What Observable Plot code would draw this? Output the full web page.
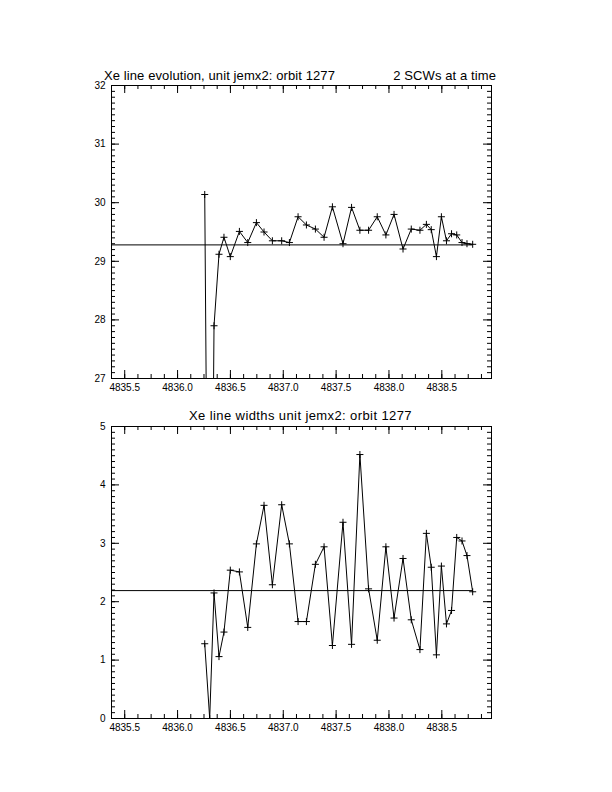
<!DOCTYPE html>
<html>
<head>
<meta charset="utf-8">
<script src="https://cdn.jsdelivr.net/npm/d3@7"></script>
<script src="https://cdn.jsdelivr.net/npm/@observablehq/plot@0.6"></script>
<style>
  body { margin: 0; background: #fff; }
  #page { position: relative; width: 612px; height: 792px; background: #fff; overflow: hidden;
          font-family: "Liberation Sans", sans-serif; color: #000; }
  .title { position: absolute; font-size: 13px; line-height: 13px; white-space: pre; letter-spacing: 0.1px; }
  .panel { position: absolute; left: 0; }
  svg { overflow: visible; }
</style>
</head>
<body>
<div id="page">
  <div class="title" id="t1" style="left:104px; width:392px; top:69px; display:flex; justify-content:space-between;">
    <span id="t1a"></span><span id="t1b"></span>
  </div>
  <div class="title" id="t2" style="left:110px; width:381px; top:409px; text-align:center; letter-spacing:0.4px;"></div>
  <div class="panel" id="p1" style="top:0px"></div>
  <div class="panel" id="p2" style="top:396px"></div>
</div>
<script>
// ---- data ----
const times = [4836.257, 4836.304, 4836.345, 4836.392, 4836.439, 4836.499, 4836.585, 4836.664,
               4836.746, 4836.818, 4836.897, 4836.985, 4837.058, 4837.140, 4837.219, 4837.304,
               4837.386, 4837.465, 4837.565, 4837.646, 4837.725, 4837.807, 4837.889, 4837.971,
               4838.048, 4838.133, 4838.211, 4838.293, 4838.354, 4838.400, 4838.449, 4838.496,
               4838.544, 4838.592, 4838.641, 4838.691, 4838.738, 4838.792];
const lineCentre = [30.14, 19.0, 27.90, 29.12, 29.41, 29.08, 29.51, 29.32,
                    29.66, 29.50, 29.35, 29.35, 29.32, 29.76, 29.62, 29.55,
                    29.41, 29.93, 29.30, 29.92, 29.53, 29.53, 29.76, 29.45,
                    29.80, 29.21, 29.55, 29.53, 29.63, 29.54, 29.08, 29.76,
                    29.35, 29.47, 29.45, 29.32, 29.30, 29.29];
const lineWidth = [1.28, 0.00, 2.15, 1.06, 1.48, 2.54, 2.51, 1.56,
                   2.99, 3.65, 2.29, 3.66, 2.99, 1.66, 1.66, 2.64,
                   2.94, 1.25, 3.36, 1.27, 4.52, 2.22, 1.34, 2.94,
                   1.72, 2.74, 1.69, 1.18, 3.17, 2.59, 1.09, 2.61,
                   1.62, 1.85, 3.10, 3.04, 2.79, 2.17];
const centreMean = 29.28;
const widthMean = 2.19;
const xTickLabels = [4835.5, 4836.0, 4836.5, 4837.0, 4837.5, 4838.0, 4838.5];
const yTicksTop = [27, 28, 29, 30, 31, 32];
const yTicksBottom = [0, 1, 2, 3, 4, 5];
const xDomain = [4835.375, 4838.97];
const title1a = "Xe line evolution, unit jemx2: orbit 1277";
const title1b = "2 SCWs at a time";
const title2 = "Xe line widths unit jemx2: orbit 1277";

document.getElementById("t1a").textContent = title1a;
document.getElementById("t1b").textContent = title1b;
document.getElementById("t2").textContent = title2;

const xMinor = d3.range(0, 29).map(i => 4835.375 + i * 0.125).filter(v => v <= xDomain[1]);

function panel({values, mean, yDomain, yMajor, height, marginTop, marginBottom}) {
  const marginLeft = 111, marginRight = 121;
  const fw = 612 - marginLeft - marginRight;
  const fh = height - marginTop - marginBottom;
  const yMinor = d3.range(Math.round(yDomain[0] * 10), Math.round(yDomain[1] * 10) + 1).map(v => v / 10);
  const data = times.map((t, i) => ({t, v: values[i]}));
  return Plot.plot({
    width: 612, height, marginLeft, marginRight, marginTop, marginBottom,
    style: {fontFamily: "Liberation Sans, sans-serif", fontSize: "10px", background: "transparent", color: "#000", overflow: "visible"},
    x: {domain: xDomain, ticks: xTickLabels, tickFormat: d3.format(".1f"), tickSize: 0, tickPadding: 5, label: null},
    y: {domain: yDomain, ticks: yMajor, tickFormat: d3.format("d"), tickSize: 0, tickPadding: 6, label: null},
    marks: [
      Plot.ruleX(xTickLabels, {insetTop: fh - 8, stroke: "#000"}),
      Plot.ruleX(xTickLabels, {insetBottom: fh - 8, stroke: "#000"}),
      Plot.ruleX(xMinor, {insetTop: fh - 4, stroke: "#000"}),
      Plot.ruleX(xMinor, {insetBottom: fh - 4, stroke: "#000"}),
      Plot.ruleY(yMajor, {insetRight: fw - 8, stroke: "#000"}),
      Plot.ruleY(yMajor, {insetLeft: fw - 8, stroke: "#000"}),
      Plot.ruleY(yMinor, {insetRight: fw - 4, stroke: "#000"}),
      Plot.ruleY(yMinor, {insetLeft: fw - 4, stroke: "#000"}),
      Plot.ruleY([mean], {x1: xDomain[0], x2: times[times.length - 1], stroke: "#000", strokeWidth: 1}),
      Plot.line(data, {x: "t", y: "v", stroke: "#000", strokeWidth: 1, clip: true}),
      Plot.dot(data, {x: "t", y: "v", symbol: "plus", r: 2.4, stroke: "#000", strokeWidth: 1, clip: true}),
      Plot.frame({stroke: "#000"})
    ]
  });
}

document.getElementById("p1").append(panel({
  values: lineCentre, mean: centreMean, yDomain: [27, 32], yMajor: yTicksTop,
  height: 400, marginTop: 85, marginBottom: 22
}));
document.getElementById("p2").append(panel({
  values: lineWidth, mean: widthMean, yDomain: [0, 5], yMajor: yTicksBottom,
  height: 340, marginTop: 30, marginBottom: 18
}));
</script>
</body>
</html>
